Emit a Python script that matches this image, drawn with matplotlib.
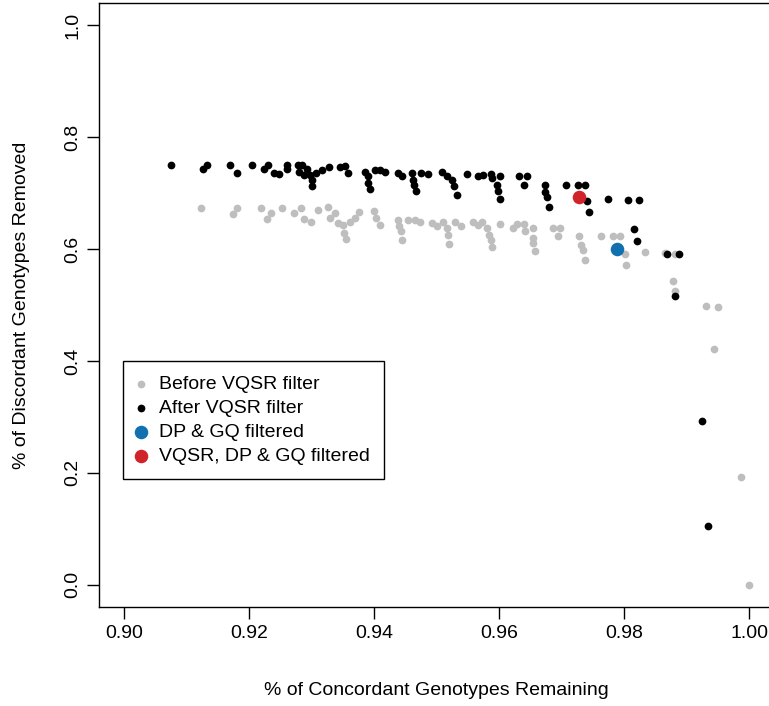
import matplotlib
matplotlib.use("Agg")
import matplotlib.pyplot as plt

plt.rcParams['font.family'] = ['Liberation Sans', 'DejaVu Sans']

# concordant remaining (x) / discordant removed (y), before VQSR filter
before_x = [0.9123, 0.9175, 0.9181, 0.9219, 0.9229, 0.9235, 0.9253, 0.9272, 0.9283, 0.9288,
            0.9299, 0.9311, 0.9327, 0.9330, 0.9338, 0.9343, 0.9351, 0.9352, 0.9355, 0.9362,
            0.9370, 0.9376, 0.9400, 0.9403, 0.9410, 0.9438, 0.9440, 0.9443, 0.9445, 0.9455,
            0.9466, 0.9474, 0.9492, 0.9500, 0.9510, 0.9516, 0.9519, 0.9520, 0.9530, 0.9539,
            0.9559, 0.9567, 0.9572, 0.9580, 0.9584, 0.9587, 0.9588, 0.9602, 0.9623, 0.9629,
            0.9640, 0.9642, 0.9655, 0.9654, 0.9655, 0.9658, 0.9686, 0.9698, 0.9695, 0.9728,
            0.9731, 0.9735, 0.9738, 0.9763, 0.9783, 0.9794, 0.9801, 0.9803, 0.9833, 0.9865,
            0.9882, 0.9878, 0.9882, 0.9931, 0.9950, 0.9944, 0.9987, 1.0000]
before_y = [0.6726, 0.6636, 0.6733, 0.6733, 0.6536, 0.6643, 0.6733, 0.6643, 0.6733, 0.6542,
            0.6493, 0.6690, 0.6751, 0.6554, 0.6643, 0.6465, 0.6434, 0.6286, 0.6179, 0.6493,
            0.6554, 0.6654, 0.6672, 0.6554, 0.6434, 0.6524, 0.6416, 0.6315, 0.6166, 0.6524,
            0.6524, 0.6476, 0.6465, 0.6416, 0.6493, 0.6375, 0.6256, 0.6095, 0.6476, 0.6404,
            0.6493, 0.6434, 0.6493, 0.6375, 0.6256, 0.6166, 0.6029, 0.6452, 0.6375, 0.6452,
            0.6452, 0.6315, 0.6375, 0.6197, 0.6107, 0.5957, 0.6375, 0.6375, 0.6238, 0.6238,
            0.6077, 0.5987, 0.5809, 0.6238, 0.6238, 0.6238, 0.5916, 0.5719, 0.5952, 0.5929,
            0.5916, 0.5428, 0.5255, 0.4974, 0.4956, 0.4213, 0.1925, 0.0000]

# after VQSR filter
after_x = [0.9075, 0.9126, 0.9132, 0.9170, 0.9181, 0.9204, 0.9224, 0.9231, 0.9240, 0.9248,
           0.9260, 0.9260, 0.9279, 0.9284, 0.9280, 0.9288, 0.9292, 0.9298, 0.9301, 0.9301,
           0.9307, 0.9316, 0.9328, 0.9346, 0.9354, 0.9358, 0.9386, 0.9391, 0.9391, 0.9394,
           0.9402, 0.9410, 0.9418, 0.9438, 0.9445, 0.9460, 0.9463, 0.9464, 0.9467, 0.9475,
           0.9486, 0.9508, 0.9516, 0.9524, 0.9528, 0.9532, 0.9548, 0.9567, 0.9575, 0.9587,
           0.9588, 0.9602, 0.9597, 0.9599, 0.9602, 0.9632, 0.9644, 0.9640, 0.9674, 0.9674,
           0.9677, 0.9680, 0.9707, 0.9727, 0.9738, 0.9741, 0.9744, 0.9774, 0.9806, 0.9824,
           0.9816, 0.9820, 0.9869, 0.9888, 0.9882, 0.9924, 0.9935]
after_y = [0.7507, 0.7435, 0.7507, 0.7512, 0.7369, 0.7512, 0.7435, 0.7512, 0.7369, 0.7346,
           0.7507, 0.7435, 0.7512, 0.7512, 0.7382, 0.7333, 0.7435, 0.7323, 0.7131, 0.7239,
           0.7358, 0.7417, 0.7466, 0.7476, 0.7489, 0.7358, 0.7387, 0.7298, 0.7180, 0.7072,
           0.7405, 0.7405, 0.7376, 0.7358, 0.7298, 0.7358, 0.7239, 0.7149, 0.7047, 0.7358,
           0.7346, 0.7387, 0.7298, 0.7239, 0.7131, 0.6971, 0.7346, 0.7298, 0.7328, 0.7346,
           0.7269, 0.7298, 0.7149, 0.7047, 0.6894, 0.7298, 0.7298, 0.7149, 0.7149, 0.7029,
           0.6940, 0.6751, 0.7149, 0.7149, 0.7149, 0.6851, 0.6661, 0.6894, 0.6869, 0.6869,
           0.6363, 0.6136, 0.5916, 0.5916, 0.5153, 0.2926, 0.1055]

# single filtered results
dpgq_x, dpgq_y = 0.9788, 0.6000
all_x, all_y = 0.9728, 0.6940

xticks = [0.90, 0.92, 0.94, 0.96, 0.98, 1.00]
yticks = [0.0, 0.2, 0.4, 0.6, 0.8, 1.0]

fig = plt.figure(figsize=(7.69, 7.06), dpi=100)
ax = fig.add_axes([99 / 769, 99 / 706, 675 / 769, 604 / 706])

ax.scatter(before_x, before_y, s=31, color='#bebebe', linewidths=0, label='Before VQSR filter')
ax.scatter(after_x, after_y, s=31, color='black', linewidths=0, label='After VQSR filter')
ax.scatter([dpgq_x], [dpgq_y], s=95, color='#1170b0', linewidths=0, label='DP & GQ filtered')
ax.scatter([all_x], [all_y], s=95, color='#d1232a', linewidths=0, label='VQSR, DP & GQ filtered')

ax.set_xlim(0.896, 1.004)
ax.set_ylim(-0.04, 1.04)
ax.set_xticks(xticks)
ax.set_xticklabels([f"{v:.2f}" for v in xticks])
ax.set_yticks(yticks)
ax.set_yticklabels([f"{v:.1f}" for v in yticks])
ax.tick_params(length=8.6, width=1.0, labelsize=14, color='black')
ax.tick_params(axis='x', pad=4)
ax.tick_params(axis='y', pad=4, labelrotation=90)
for lab in ax.get_yticklabels():
    lab.set_va('center')
for sp in ax.spines.values():
    sp.set_linewidth(1.0)

ax.set_xlabel("% of Concordant Genotypes Remaining", fontsize=14, labelpad=29)
ax.set_ylabel("% of Discordant Genotypes Removed", fontsize=14, labelpad=25)

leg = ax.legend(loc='upper left', bbox_to_anchor=(24 / 675, 246 / 604), borderaxespad=0,
                fontsize=14, frameon=True, fancybox=False, framealpha=1, edgecolor='black',
                borderpad=0.72, handlelength=0.41, handletextpad=0.72, labelspacing=0.33,
                scatterpoints=1)
leg.get_frame().set_linewidth(1.0)

fig.savefig("out.png", dpi=100)
